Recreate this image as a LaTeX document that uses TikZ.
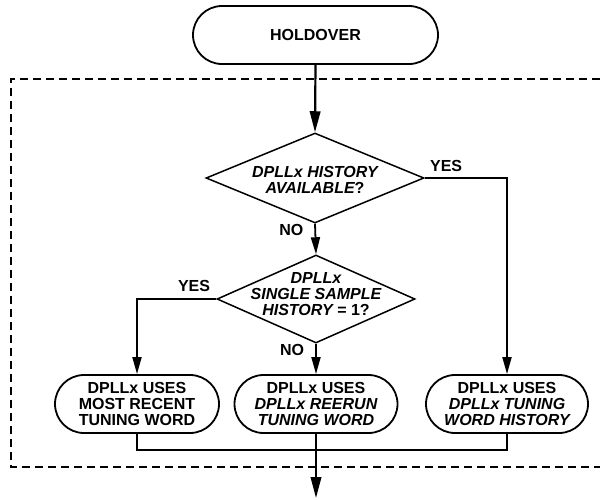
\documentclass[tikz,border=0pt]{standalone}
\usepackage{fontspec}
\setmainfont{Liberation Sans}
\usetikzlibrary{arrows.meta,shapes.geometric}
\begin{document}
\begin{tikzpicture}[x=1pt,y=-1pt,
  txt/.style={font=\fontsize{16}{16}\selectfont\bfseries},
  term/.style={txt, draw, line width=1.8pt, rounded corners=29pt, minimum height=58pt,
    inner sep=0pt, align=center},
  dia/.style={draw, diamond, line width=1.5pt, inner sep=0pt},
  lbl/.style={txt, inner sep=0pt, align=center},
  conn/.style={line width=1.8pt},
  arr/.style={conn, -{Triangle[length=17pt,width=9pt]}},
  bigarr/.style={line width=2.2pt, -{Triangle[length=21pt,width=10.5pt]}},
  dashbox/.style={line width=2pt, dash pattern=on 8pt off 5pt}
]
\useasboundingbox (0,0) rectangle (600,499);
% dashed frame (cut off at the right)
\draw[dashbox] (600,79) -- (11,79) -- (11,467) -- (600,467);

% nodes
\node[term, minimum width=245pt] (hold) at (315.5,35) {HOLDOVER};
\node[dia, minimum width=218pt, minimum height=90pt,
  label={[lbl, yshift=-2pt, name=d1t]center:{\itshape DPLLx HISTORY\\\itshape AVAILABLE\upshape ?}}]
  (d1) at (315,178) {};
\node[dia, minimum width=198pt, minimum height=88pt,
  label={[lbl, yshift=5pt, name=d2t]center:{\itshape DPLLx\\\itshape SINGLE SAMPLE\\\itshape HISTORY\upshape\ = 1?}}]
  (d2) at (316,299) {};
\node[term, minimum width=164pt] (lbox) at (137,404) {DPLLx USES\\MOST RECENT\\TUNING WORD};
\node[term, minimum width=163pt] (mbox) at (316,404) {DPLLx USES\\\itshape DPLLx REERUN\\\itshape TUNING WORD};
\node[term, minimum width=162pt] (rbox) at (507,404) {DPLLx USES\\\itshape DPLLx TUNING\\\itshape WORD HISTORY};
\coordinate (join) at (316,450);
\coordinate (out) at (316,498);

% connectors
\draw[bigarr] (hold.south) -- (d1.north);
\draw[arr] (d1.south) -- node[lbl, pos=0.22, left=11pt] {NO} (d2.north);
\draw[arr] (d1.east) -| node[lbl, pos=0.13, above=5pt] {YES} (rbox.north);
\draw[arr] (d2.west) -| node[lbl, pos=0.14, above=6pt] {YES} (lbox.north);
\draw[arr] (d2.south) -- node[lbl, pos=0.22, left=11pt] {NO} (mbox.north);
\draw[conn] (lbox.south) |- (join) -| (rbox.south);
\draw[bigarr] (mbox.south) -- (out);
\end{tikzpicture}
\end{document}
